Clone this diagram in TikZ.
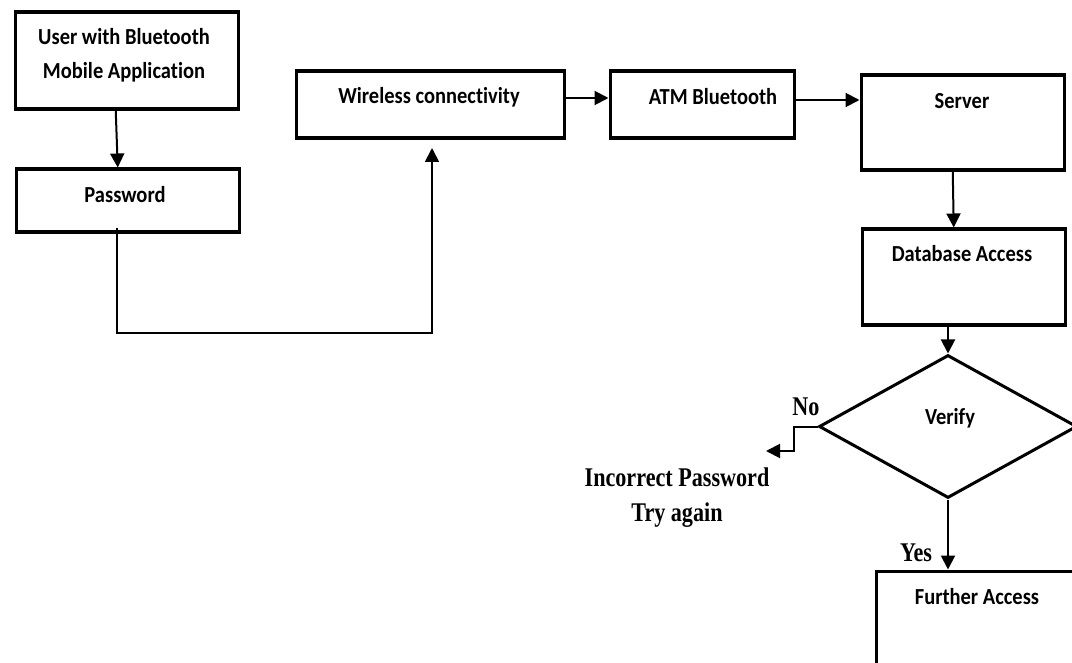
\documentclass[tikz,border=0pt]{standalone}
\usepackage{fontspec}
\newfontfamily\calib{Carlito}[Ligatures=NoCommon]
\newfontfamily\tms{Liberation Serif}
\usetikzlibrary{arrows.meta,shapes.geometric,calc}
\tikzset{
  box/.style={draw, line width=3.5pt, anchor=north west, inner sep=0pt},
  lbl/.style={inner sep=0pt, align=center, yscale=1.12, font=\calib\bfseries\fontsize{20.5}{30.5}\selectfont},
  ser/.style={inner sep=0pt, align=center, font=\tms\bfseries\fontsize{27}{35}\selectfont},
  tip/.style={-{Triangle[length=14pt,width=14pt]}},
  arr/.style={line width=2pt, tip},
  plain/.style={line width=1.8pt},
}
\begin{document}
\begin{tikzpicture}[x=1pt,y=-1pt]
\useasboundingbox (0,0) rectangle (1072,663);
\clip (0,0) rectangle (1072,663);
% boxes
\node[box, minimum width=223pt, minimum height=97pt] (user) at (13.5,10.5) {};
\node[box, minimum width=223pt, minimum height=63pt] (pass) at (14.5,167.5) {};
\node[box, minimum width=268pt, minimum height=67pt] (wire) at (294.5,69.5) {};
\node[box, minimum width=184pt, minimum height=67pt] (atm) at (608.5,69.5) {};
\node[box, minimum width=203pt, minimum height=95pt] (server) at (859.5,73.5) {};
\node[box, minimum width=203pt, minimum height=96pt] (db) at (860.5,227.5) {};
\node[box, minimum width=240pt, minimum height=140pt] (further) at (874.5,569.5) {};
\node[draw, diamond, line width=3pt, minimum width=258pt, minimum height=143pt, inner sep=0pt] (verify) at (948,426.5) {};
% texts
\node[lbl] (userT) at (124,55) {User with Bluetooth\\Mobile Application};
\node[lbl] (passT) at (125,195) {Password};
\node[lbl] (wireT) at (429,97) {Wireless connectivity};
\node[lbl] (atmT) at (713,97) {ATM Bluetooth};
\node[lbl] (serverT) at (962,101) {Server};
\node[lbl] (dbT) at (962,254) {Database Access};
\node[lbl] (verifyT) at (950,418) {Verify};
\node[lbl] (furtherT) at (977,597) {Further Access};
\node[ser, xscale=0.82] (incT) at (677,498) {Incorrect Password\\Try again};
\node[ser, xscale=0.82] (noT) at (806,407) {No};
\node[ser, xscale=0.82] (yesT) at (916,553) {Yes};
% connectors
\draw[arr] ([xshift=-11pt]user.south) -- ([xshift=-10pt]pass.north);
\coordinate (pbend) at (432,333);
\draw[plain,tip] ([xshift=-11pt,yshift=6pt]pass.south) |- (pbend) -- ([yshift=-8pt]pbend |- wire.south);
\draw[arr] (wire.east |- 0,98) -- (atm.west |- 0,98);
\draw[arr] (atm.east |- 0,100) -- (server.west |- 0,100);
\draw[arr] ([xshift=-10pt]server.south) -- ([xshift=-10pt]db.north);
\draw[arr] (db.south -| verify.north) -- (verify.north);
\coordinate (nostep) at (794,451);
\coordinate (noend) at (766,451);
\draw[arr] (verify.west) -| (nostep) -- (noend);
\draw[arr] (verify.south) -- (verify.south |- further.north);
\end{tikzpicture}
\end{document}
